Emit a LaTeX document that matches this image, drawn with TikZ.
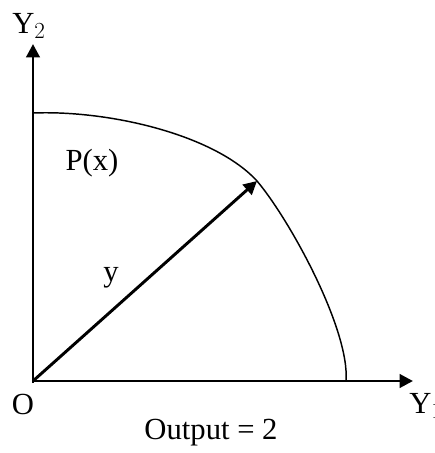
\documentclass[tikz,border=0pt]{standalone}
\usepackage{fontspec}
\setmainfont{Liberation Serif}
\usetikzlibrary{arrows.meta}

\tikzset{
  axis/.style={line width=2.2pt,-{Triangle[length=10pt,width=10pt]}},
  frontier/.style={line width=1.1pt},
  lbl/.style={font=\fontsize{23}{27}\selectfont,inner sep=0pt}
}

\begin{document}
\begin{tikzpicture}[x=0.75pt,y=-0.75pt]
  \useasboundingbox (0,0) rectangle (435,453);
  % axes
  \coordinate (O) at (33,381);
  \coordinate (ytop) at (33,44);
  \coordinate (xend) at (413,381);
  \coordinate (Px) at (257,181);
  \draw[axis] (O|-0,383) -- (ytop);
  \draw[axis] (31.9,381) -- (xend);
  % production possibility curve
  \draw[frontier] (33,113) .. controls (110,110) and (215,135) .. (Px)
    .. controls (290,220) and (350,330) .. (346,381);
  \draw[axis] (O) -- (Px);
  % labels
  \node[lbl] (Y2) at (29,26) {Y$_2$};
  \node[lbl,anchor=west] (Y1) at (409,406) {Y$_1$};
  \node[lbl] (Olbl) at (23,404) {O};
  \node[lbl] (Plbl) at (92,163) {P(x)};
  \node[lbl,anchor=base] (ylbl) at (111,281) {y};
  \node[lbl] (out) at (211,433) {Output = 2};
\end{tikzpicture}
\end{document}
